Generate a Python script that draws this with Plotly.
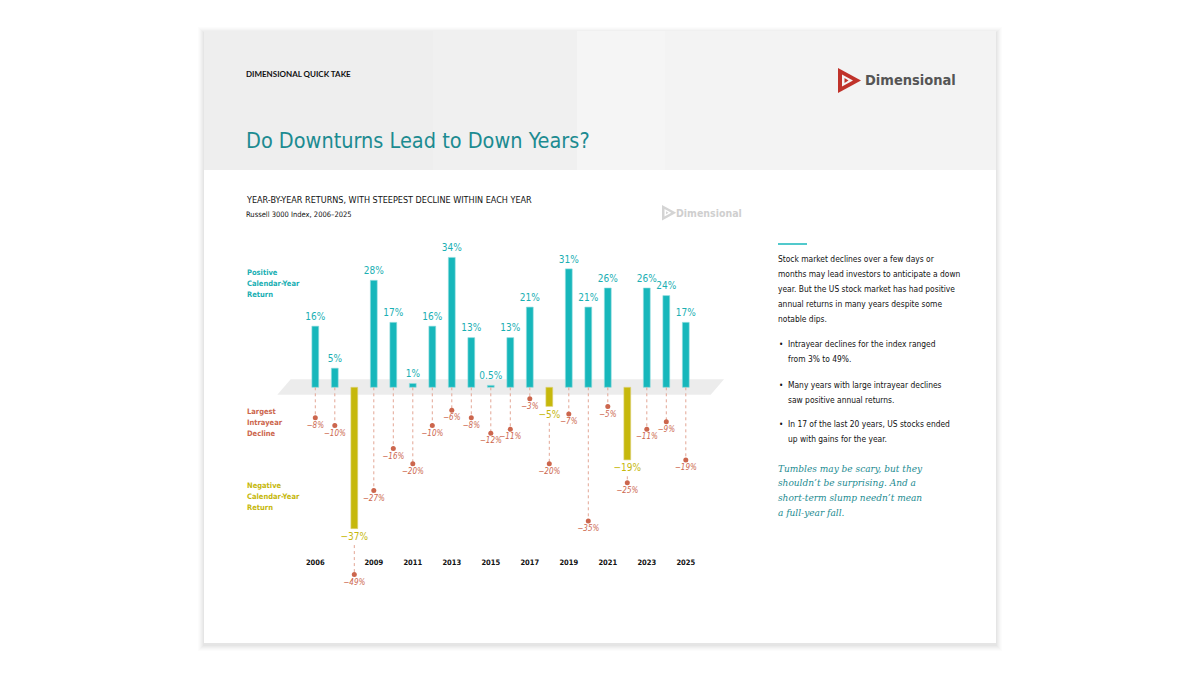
import plotly.graph_objects as go

# ---------------- data ----------------
years = list(range(2006, 2026))
annual_returns = [16, 5, -37, 28, 17, 1, 16, 34, 13, 0.5, 13, 21, -5, 31, 21, 26, -19, 26, 24, 17]
intrayear_declines = [-8, -10, -49, -27, -16, -20, -10, -6, -8, -12, -11, -3, -20, -7, -35, -5, -25, -11, -9, -19]
tick_years = [2006, 2009, 2011, 2013, 2015, 2017, 2019, 2021, 2023, 2025]
tick_labels = [str(y) for y in tick_years]

# ---------------- styles ----------------
TEAL = "#17b7bb"
TEAL_TXT = "#1aafb3"
TITLE_TEAL = "#1c8b91"
YELLOW = "#c6b80c"
SALMON = "#cc664d"
SALMON_LINE = "#e3a694"
COND = "DejaVu Sans Condensed, Liberation Sans Narrow, sans-serif"
SERIF = "DejaVu Serif Condensed, DejaVu Serif, serif"
W, H = 1200, 675

# pixel geometry of the chart area (page coordinates)
X0_PX, DX_PX = 315.3, 19.5       # centre of first year, spacing per year
BASE_PX, PCT_PX = 387.3, 3.82    # baseline y (from top), pixels per percent


def fmt(v):
    s = ("%g" % abs(v)) + "%"
    return ("\u2212" + s) if v < 0 else s


fig = go.Figure()

# bars
fig.add_trace(go.Bar(
    x=years, y=annual_returns, width=0.35,
    marker=dict(color=[TEAL if v >= 0 else YELLOW for v in annual_returns],
                line=dict(color=["#8fdcde" if v >= 0 else "#ddd27a" for v in annual_returns], width=0.6)),
    hoverinfo="skip", showlegend=False,
))

# value labels
pos_x = [y for y, v in zip(years, annual_returns) if v >= 0]
pos_v = [v for v in annual_returns if v >= 0]
neg_x = [y for y, v in zip(years, annual_returns) if v < 0]
neg_v = [v for v in annual_returns if v < 0]
fig.add_trace(go.Scatter(x=pos_x, y=[v + 1.0 for v in pos_v], mode="text", text=[fmt(v) for v in pos_v],
                         textposition="top center", textfont=dict(family=COND, size=10, color=TEAL_TXT),
                         hoverinfo="skip", showlegend=False, cliponaxis=False))
fig.add_trace(go.Scatter(x=neg_x, y=[v - 1.0 for v in neg_v], mode="text", text=[fmt(v) for v in neg_v],
                         textposition="bottom center", textfont=dict(family=COND, size=10, color=YELLOW),
                         hoverinfo="skip", showlegend=False, cliponaxis=False))

# dotted leader lines
lx, ly = [], []
for y, r, d in zip(years, annual_returns, intrayear_declines):
    start = 0 if r >= 0 else r - 4.3
    lx += [y, y, None]
    ly += [start, d, None]
fig.add_trace(go.Scatter(x=lx, y=ly, mode="lines", line=dict(color=SALMON_LINE, width=1, dash="dot"),
                         hoverinfo="skip", showlegend=False, cliponaxis=False))

# decline dots
fig.add_trace(go.Scatter(x=years, y=intrayear_declines, mode="markers+text",
                         marker=dict(color=SALMON, size=5),
                         text=[fmt(v) for v in intrayear_declines], textposition="bottom center",
                         textfont=dict(family=COND, size=8, color=SALMON, style="italic"),
                         hoverinfo="skip", showlegend=False, cliponaxis=False))

# axes mapped to page pixels
xr = [years[0] - X0_PX / DX_PX, years[0] + (W - X0_PX) / DX_PX]
yr = [-(H - BASE_PX) / PCT_PX, BASE_PX / PCT_PX]

fig.update_layout(
    width=W, height=H, margin=dict(l=0, r=0, t=0, b=0),
    paper_bgcolor="white", plot_bgcolor="rgba(0,0,0,0)",
    xaxis=dict(domain=[0, 1], range=xr, anchor="free", position=1 - 556 / H,
               tickvals=tick_years, ticktext=tick_labels, showgrid=False, zeroline=False,
               showline=False, ticks="", tickfont=dict(family=COND, size=7.5, color="#111", weight="bold")),
    yaxis=dict(domain=[0, 1], range=yr, visible=False),
    xaxis2=dict(domain=[0, 1], range=[0, W], visible=False, overlaying="x"),
    yaxis2=dict(domain=[0, 1], range=[H, 0], visible=False, overlaying="y"),
)

shapes = []


def rect(x0, y0, x1, y1, fill, layer="below", line=None):
    shapes.append(dict(type="rect", xref="x2", yref="y2", x0=x0, y0=y0, x1=x1, y1=y1,
                       fillcolor=fill, line=dict(width=0) if line is None else line, layer=layer))


def path(d, fill, layer="below"):
    shapes.append(dict(type="path", xref="x2", yref="y2", path=d, fillcolor=fill,
                       line=dict(width=0), layer=layer))


# card shadow (soft)
for i, a in enumerate([0.01, 0.012, 0.015, 0.018, 0.02, 0.022]):
    g = 6 - i
    rect(204 - g, 31 - g + 2, 996 + g, 643 + g + 2, "rgba(0,0,0,%g)" % a)
rect(204, 31, 996, 643, "white")
# header panels
rect(204, 31, 996, 170, "#f3f3f3")
rect(204, 31, 433, 170, "#eeeeee")
rect(433, 31, 577, 170, "#f0f0f0")
rect(577, 31, 665, 170, "#f5f5f5")
rect(665, 31, 996, 170, "#f3f3f3")

# platform band
path("M 290.7 379.3 L 724 379.3 L 710.7 394.7 L 277.3 394.7 Z", "#ececec")


# logo icon
def logo(x, y, s, c1, c2):
    path("M %g %g L %g %g L %g %g Z" % (x, y, x + 23 * s, y + 12.5 * s, x, y + 25 * s), c1)
    path("M %g %g L %g %g L %g %g Z" % (x + 4 * s, y + 6.5 * s, x + 15 * s, y + 12.5 * s, x + 4 * s, y + 18.5 * s), c2)
    path("M %g %g L %g %g L %g %g Z" % (x + 6.5 * s, y + 10 * s, x + 10.5 * s, y + 12.5 * s, x + 6.5 * s, y + 15 * s), c1)


logo(838, 68, 1.0, "#c0322a", "#f4f4f4")
logo(662, 205, 0.62, "#d4d4d4", "white")

# teal rule
shapes.append(dict(type="line", xref="x2", yref="y2", x0=778, x1=807, y0=244, y1=244,
                   line=dict(color=TEAL, width=1.5)))

fig.update_layout(shapes=shapes)

ann = []


def text(x, y, s, size, color, family=COND, weight="normal", style="normal", xanchor="left"):
    ann.append(dict(xref="x2", yref="y2", x=x - 2, y=y, text=s, showarrow=False, xanchor=xanchor,
                    yanchor="middle", align="left",
                    font=dict(family=family, size=size, color=color, weight=weight, style=style)))


text(246, 74, "DIMENSIONAL QUICK TAKE", 8, "#111", family="Lato, sans-serif", weight="bold")
text(865, 80, "Dimensional", 14.5, "#555", weight="bold")
text(246, 140, "Do Downturns Lead to Down Years?", 21.5, TITLE_TEAL)
text(246, 200, "YEAR-BY-YEAR RETURNS, WITH STEEPEST DECLINE WITHIN EACH YEAR", 9, "#111")
text(246, 214, "Russell 3000 Index, 2006\u20132025", 7.5, "#111")
text(676, 213, "Dimensional", 10.5, "#cfcfcf", weight="bold")

for i, s in enumerate(["Positive", "Calendar-Year", "Return"]):
    text(247, 272.7 + 11 * i, s, 7.5, TEAL_TXT, weight="bold")
for i, s in enumerate(["Largest", "Intrayear", "Decline"]):
    text(247, 411 + 11 * i, s, 7.5, SALMON, weight="bold")
for i, s in enumerate(["Negative", "Calendar-Year", "Return"]):
    text(247, 485 + 11 * i, s, 7.5, YELLOW, weight="bold")

PSZ = 8.4
para = ["Stock market declines over a few days or",
        "months may lead investors to anticipate a down",
        "year. But the US stock market has had positive",
        "annual returns in many years despite some",
        "notable dips."]
for i, s in enumerate(para):
    text(778, 259 + 15 * i, s, PSZ, "#111")

bullets = [(344, "Intrayear declines for the index ranged", "from 3% to 49%."),
           (385, "Many years with large intrayear declines", "saw positive annual returns."),
           (424, "In 17 of the last 20 years, US stocks ended", "up with gains for the year.")]
for y, a, b in bullets:
    text(779, y, "\u2022", 8, "#111")
    text(788, y, a, PSZ, "#111")
    text(788, y + 15, b, PSZ, "#111")

quote = ["Tumbles may be scary, but they",
         "shouldn\u2019t be surprising. And a",
         "short-term slump needn\u2019t mean",
         "a full-year fall."]
for i, s in enumerate(quote):
    text(778, 468 + 14.7 * i, s, 10, TITLE_TEAL, family=SERIF, style="italic")

fig.update_layout(annotations=ann)

fig.write_html("out.html", config={"displayModeBar": False},
               post_script="document.body.style.margin='0';document.body.style.padding='0';")
